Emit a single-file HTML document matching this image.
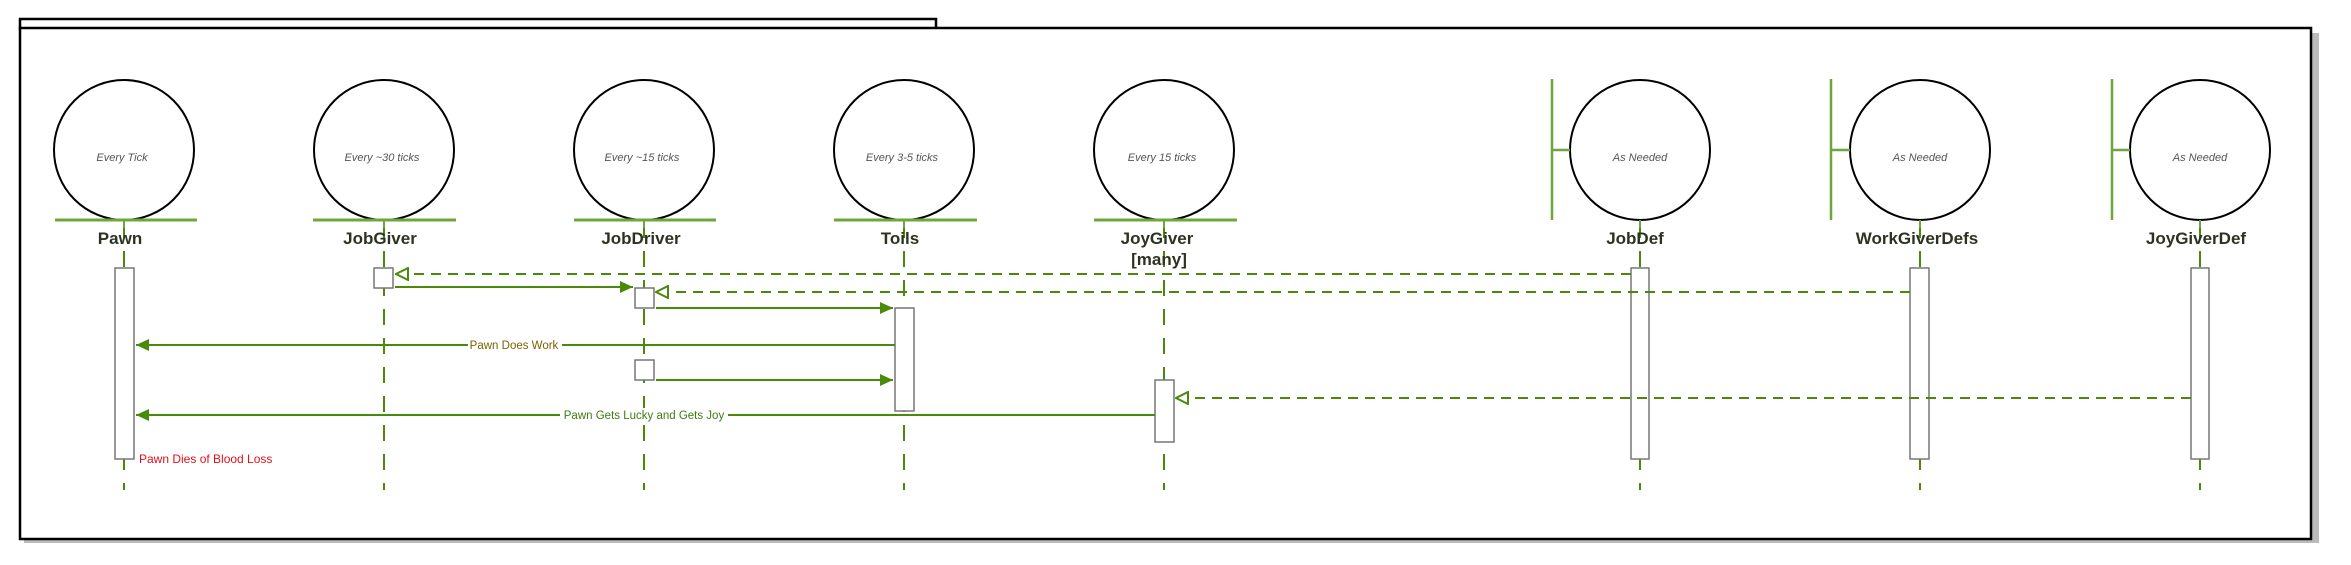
<!DOCTYPE html>
<html><head><meta charset="utf-8"><style>
html,body{margin:0;padding:0;background:#fff;}
svg{display:block;}
text{font-family:"Liberation Sans",sans-serif;}
.nm{font-size:17px;font-weight:bold;fill:#2d3320;text-anchor:middle;}
.it{font-size:11px;font-style:italic;fill:#555;text-anchor:middle;}
</style></head><body>
<svg width="2351" height="565" viewBox="0 0 2351 565" xmlns="http://www.w3.org/2000/svg">
<defs>
<marker id="f" markerWidth="14" markerHeight="12" refX="13" refY="6" orient="auto" markerUnits="userSpaceOnUse"><path d="M0,0 L13,6 L0,12 Z" fill="#4a8a0a"/></marker>
<marker id="o" markerWidth="14" markerHeight="14" refX="13" refY="7" orient="auto" markerUnits="userSpaceOnUse"><path d="M1,1 L13,7 L1,13 Z" fill="#fff" stroke="#4a8a0a" stroke-width="2"/></marker>
</defs>
<rect x="24" y="33" width="2295" height="510" fill="#bbb"/>
<rect x="20" y="19" width="916" height="10" fill="#fff" stroke="#000" stroke-width="2.5"/>
<rect x="20" y="28" width="2291" height="511" fill="#fff" stroke="#000" stroke-width="2.5"/>

<g stroke="#4a8a0a" stroke-width="2" stroke-dasharray="16 13">
<line x1="124" y1="222" x2="124" y2="490"/>
<line x1="384" y1="222" x2="384" y2="490"/>
<line x1="644" y1="222" x2="644" y2="490"/>
<line x1="904" y1="222" x2="904" y2="490"/>
<line x1="1164" y1="222" x2="1164" y2="490"/>
<line x1="1640" y1="222" x2="1640" y2="490"/>
<line x1="1920" y1="222" x2="1920" y2="490"/>
<line x1="2200" y1="222" x2="2200" y2="490"/>
</g>

<g fill="#fff" stroke="#000" stroke-width="2">
<ellipse cx="124" cy="150" rx="70" ry="70"/>
<ellipse cx="384" cy="150" rx="70" ry="70"/>
<ellipse cx="644" cy="150" rx="70" ry="70"/>
<ellipse cx="904" cy="150" rx="70" ry="70"/>
<ellipse cx="1164" cy="150" rx="70" ry="70"/>
<ellipse cx="1640" cy="150" rx="70" ry="70"/>
<ellipse cx="1920" cy="150" rx="70" ry="70"/>
<ellipse cx="2200" cy="150" rx="70" ry="70"/>
</g>
<g stroke="#6fa53e" stroke-width="3">
<line x1="55" y1="220" x2="197" y2="220"/>
<line x1="313" y1="220" x2="456" y2="220"/>
<line x1="574" y1="220" x2="716" y2="220"/>
<line x1="834" y1="220" x2="977" y2="220"/>
<line x1="1094" y1="220" x2="1237" y2="220"/>
</g>
<g stroke="#6fa53e" stroke-width="2.5">
<line x1="1552" y1="79" x2="1552" y2="220"/><line x1="1552" y1="150" x2="1570" y2="150"/>
<line x1="1831" y1="79" x2="1831" y2="220"/><line x1="1831" y1="150" x2="1850" y2="150"/>
<line x1="2112" y1="79" x2="2112" y2="220"/><line x1="2112" y1="150" x2="2130" y2="150"/>
</g>
<g stroke="#6fa53e" stroke-width="2">
<line x1="124" y1="220" x2="124" y2="228"/><line x1="384" y1="220" x2="384" y2="228"/>
<line x1="644" y1="220" x2="644" y2="228"/><line x1="904" y1="220" x2="904" y2="228"/>
<line x1="1164" y1="220" x2="1164" y2="228"/><line x1="1640" y1="220" x2="1640" y2="228"/>
<line x1="1920" y1="220" x2="1920" y2="228"/><line x1="2200" y1="220" x2="2200" y2="228"/>
</g>
<text x="122" y="161" class="it">Every Tick</text>
<text x="382" y="161" class="it">Every ~30 ticks</text>
<text x="642" y="161" class="it">Every ~15 ticks</text>
<text x="902" y="161" class="it">Every 3-5 ticks</text>
<text x="1162" y="161" class="it">Every 15 ticks</text>
<text x="1640" y="161" class="it">As Needed</text>
<text x="1920" y="161" class="it">As Needed</text>
<text x="2200" y="161" class="it">As Needed</text>
<text x="120" y="244" class="nm">Pawn</text>
<text x="380" y="244" class="nm">JobGiver</text>
<text x="641" y="244" class="nm">JobDriver</text>
<text x="900" y="244" class="nm">Toils</text>
<text x="1157" y="244" class="nm">JoyGiver</text>
<text x="1159" y="265" class="nm">[many]</text>
<text x="1635" y="244" class="nm">JobDef</text>
<text x="1917" y="244" class="nm">WorkGiverDefs</text>
<text x="2196" y="244" class="nm">JoyGiverDef</text>

<g fill="#fff" stroke="#777" stroke-width="1.5">
<rect x="115" y="268" width="19" height="191"/>
<rect x="374" y="268" width="19" height="20"/>
<rect x="635" y="288" width="19" height="20"/>
<rect x="635" y="360" width="19" height="20"/>
<rect x="895" y="308" width="19" height="103"/>
<rect x="1155" y="380" width="19" height="62"/>
<rect x="1631" y="268" width="18" height="191"/>
<rect x="1910" y="268" width="19" height="191"/>
<rect x="2191" y="268" width="18" height="191"/>
</g>

<g stroke="#4a8a0a" stroke-width="2" fill="none">
<line x1="1631" y1="274" x2="396" y2="274" stroke-dasharray="10 7" marker-end="url(#o)"/>
<line x1="395" y1="287" x2="633" y2="287" marker-end="url(#f)"/>
<line x1="1910" y1="292" x2="656" y2="292" stroke-dasharray="10 7" marker-end="url(#o)"/>
<line x1="656" y1="308" x2="893" y2="308" marker-end="url(#f)"/>
<line x1="895" y1="345" x2="136" y2="345" marker-end="url(#f)"/>
<line x1="656" y1="380" x2="893" y2="380" marker-end="url(#f)"/>
<line x1="2191" y1="398" x2="1176" y2="398" stroke-dasharray="10 7" marker-end="url(#o)"/>
<line x1="1155" y1="415" x2="136" y2="415" marker-end="url(#f)"/>
</g>
<rect x="468" y="338" width="94" height="14" fill="#fff"/>
<text x="514" y="349" font-size="11.5" fill="#7a6200" text-anchor="middle">Pawn Does Work</text>
<rect x="560" y="408" width="168" height="14" fill="#fff"/>
<text x="644" y="419" font-size="11.5" fill="#3d7d10" text-anchor="middle">Pawn Gets Lucky and Gets Joy</text>
<text x="139" y="463" font-size="12" fill="#e0101a">Pawn Dies of Blood Loss</text>
</svg>
</body></html>
